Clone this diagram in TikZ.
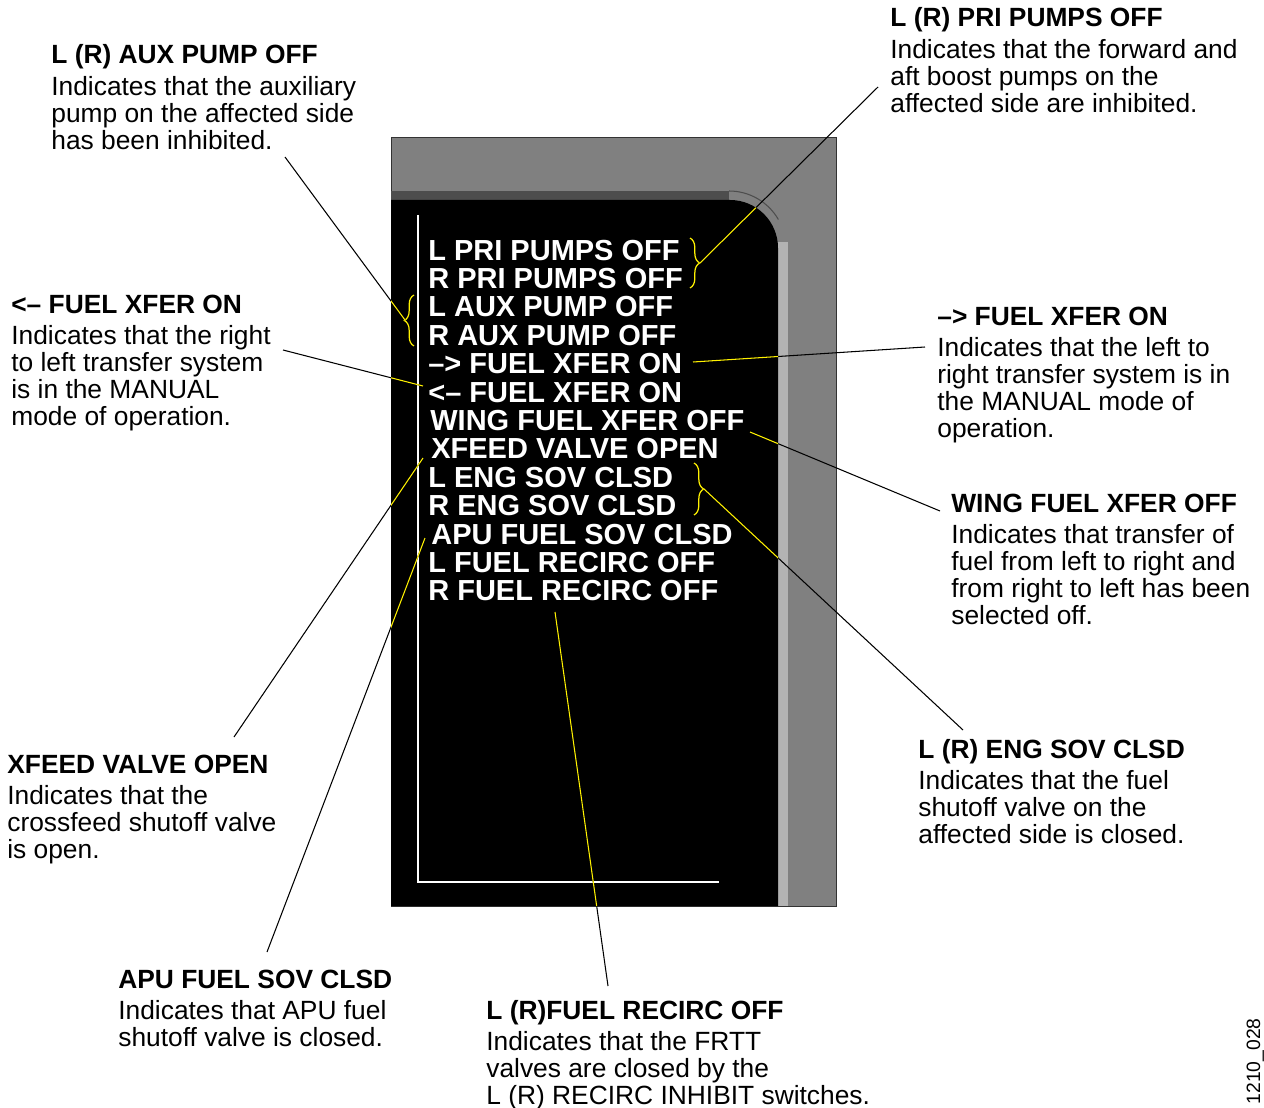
\documentclass[tikz,border=0pt]{standalone}
\usepackage{fontspec}
\setmainfont{Liberation Sans}
\usetikzlibrary{decorations.pathreplacing}

\definecolor{bezel}{HTML}{808080}
\definecolor{bezeldark}{HTML}{4D4D4D}
\definecolor{bezellight}{HTML}{B3B3B3}

\newcommand{\calloutfont}{\fontsize{15}{15}\selectfont}
\newcommand{\screenfont}{\bfseries\fontsize{16.5}{16.5}\selectfont}
% heading + description, baseline on the heading
\newcommand{\calloutbox}[2]{\begin{tabular}[t]{@{}l@{}}\textbf{#1}\\[2.6pt] #2\end{tabular}}

\tikzset{
  callout/.style={anchor=base west, inner sep=0pt, font=\calloutfont},
  msg/.style={anchor=base west, inner sep=0pt, text=white, font=\screenfont},
  leader/.style={line width=0.6pt},
  bracket/.style={yellow, line width=0.7pt, decorate, decoration={brace, amplitude=5.5pt}},
}

\begin{document}
\begin{tikzpicture}[x=0.02cm, y=-0.02cm]
\useasboundingbox (0,0) rectangle (1264,1108);

% Display bezel
\filldraw[fill=bezel, draw=black!80, line width=0.5pt] (391,137) rectangle (836,906);
\fill[bezeldark] (391,191) rectangle (729,200);
\draw[bezeldark, line width=0.6pt] (729,191) arc[start angle=-90, end angle=-30, radius=57];
\fill[bezellight] (778,242) rectangle (788,906);

% Screen
\fill[black] (391,906) -- (391,200) -- (730,200) arc[start angle=-90, end angle=0, radius=48] -- (778,906) -- cycle;
\draw[white, line width=1.2pt] (418,215) -- (418,882) -- (719,882);

% Messages on the screen
\node[msg] (priL) at (428,260) {L PRI PUMPS OFF};
\node[msg] (priR) at (428,288.4) {R PRI PUMPS OFF};
\node[msg] (auxL) at (428,316.8) {L AUX PUMP OFF};
\node[msg] (auxR) at (428,345.2) {R AUX PUMP OFF};
\node[msg] (xferR) at (428,373.6) {–> FUEL XFER ON};
\node[msg] (xferL) at (428,402) {<– FUEL XFER ON};
\node[msg] (wing) at (430,430.4) {WING FUEL XFER OFF};
\node[msg] (xfeed) at (431,458.8) {XFEED VALVE OPEN};
\node[msg] (engL) at (428,487.2) {L ENG SOV CLSD};
\node[msg] (engR) at (428,515.6) {R ENG SOV CLSD};
\node[msg] (apu) at (431,544) {APU FUEL SOV CLSD};
\node[msg] (recircL) at (428,572.4) {L FUEL RECIRC OFF};
\node[msg] (recircR) at (428,600.8) {R FUEL RECIRC OFF};

% Braces
\draw[bracket] (690,238) -- (690,288);
\draw[bracket] (414,346) -- (414,295);
\draw[bracket] (694,463) -- (694,515);

% Callouts
\node[callout] (priText) at (890,27) {\calloutbox{L (R) PRI PUMPS OFF}{%
  Indicates that the forward and\\ aft boost pumps on the\\ affected side are inhibited.}};
\node[callout] (auxText) at (51,64) {\calloutbox{L (R) AUX PUMP OFF}{%
  Indicates that the auxiliary\\ pump on the affected side\\ has been inhibited.}};
\node[callout] (xferLText) at (11,313) {\calloutbox{<– FUEL XFER ON}{%
  Indicates that the right\\ to left transfer system\\ is in the MANUAL\\ mode of operation.}};
\node[callout] (xferRText) at (937,325) {\calloutbox{–> FUEL XFER ON}{%
  Indicates that the left to\\ right transfer system is in\\ the MANUAL mode of\\ operation.}};
\node[callout] (wingText) at (951,512) {\calloutbox{WING FUEL XFER OFF}{%
  Indicates that transfer of\\ fuel from left to right and\\ from right to left has been\\ selected off.}};
\node[callout] (engText) at (918,758) {\calloutbox{L (R) ENG SOV CLSD}{%
  Indicates that the fuel\\ shutoff valve on the\\ affected side is closed.}};
\node[callout] (xfeedText) at (7,773) {\calloutbox{XFEED VALVE OPEN}{%
  Indicates that the\\ crossfeed shutoff valve\\ is open.}};
\node[callout] (apuText) at (118,988) {\calloutbox{APU FUEL SOV CLSD}{%
  Indicates that APU fuel\\ shutoff valve is closed.}};
\node[callout] (recircText) at (486,1019) {\calloutbox{L (R)FUEL RECIRC OFF}{%
  Indicates that the FRTT\\ valves are closed by the\\ L (R) RECIRC INHIBIT switches.}};

\node[anchor=base east, rotate=90, inner sep=0pt, font=\fontsize{11}{11}\selectfont] (figId) at (1260,1018) {1210\_028};

% Leader ends
\coordinate (priA) at (878,87);     \coordinate (priB) at (700,263);
\coordinate (auxA) at (285,157);    \coordinate (auxB) at (405,320);
\coordinate (xferLA) at (283,350);  \coordinate (xferLB) at (423,386);
\coordinate (xferRA) at (925,347);  \coordinate (xferRB) at (693,362);
\coordinate (wingA) at (940,511);   \coordinate (wingB) at (750,432);
\coordinate (engA) at (963,730);    \coordinate (engB) at (704,489);
\coordinate (xfeedA) at (234,737);  \coordinate (xfeedB) at (423,458);
\coordinate (apuA) at (267,952);    \coordinate (apuB) at (425,538);
\coordinate (recircA) at (608,986); \coordinate (recircB) at (555,612);

% Leaders, black outside the screen
\draw[leader] (priA) -- (priB);
\draw[leader] (auxA) -- (auxB);
\draw[leader] (xferLA) -- (xferLB);
\draw[leader] (xferRA) -- (xferRB);
\draw[leader] (wingA) -- (wingB);
\draw[leader] (engA) -- (engB);
\draw[leader] (xfeedA) -- (xfeedB);
\draw[leader] (apuA) -- (apuB);
\draw[leader] (recircA) -- (recircB);

% ... and yellow on it
\begin{scope}
  \clip (391,906) -- (391,200) -- (730,200) arc[start angle=-90, end angle=0, radius=48] -- (778,906) -- cycle;
  \draw[leader, yellow] (priA) -- (priB);
  \draw[leader, yellow] (auxA) -- (auxB);
  \draw[leader, yellow] (xferLA) -- (xferLB);
  \draw[leader, yellow] (xferRA) -- (xferRB);
  \draw[leader, yellow] (wingA) -- (wingB);
  \draw[leader, yellow] (engA) -- (engB);
  \draw[leader, yellow] (xfeedA) -- (xfeedB);
  \draw[leader, yellow] (apuA) -- (apuB);
  \draw[leader, yellow] (recircA) -- (recircB);
\end{scope}

\end{tikzpicture}
\end{document}
